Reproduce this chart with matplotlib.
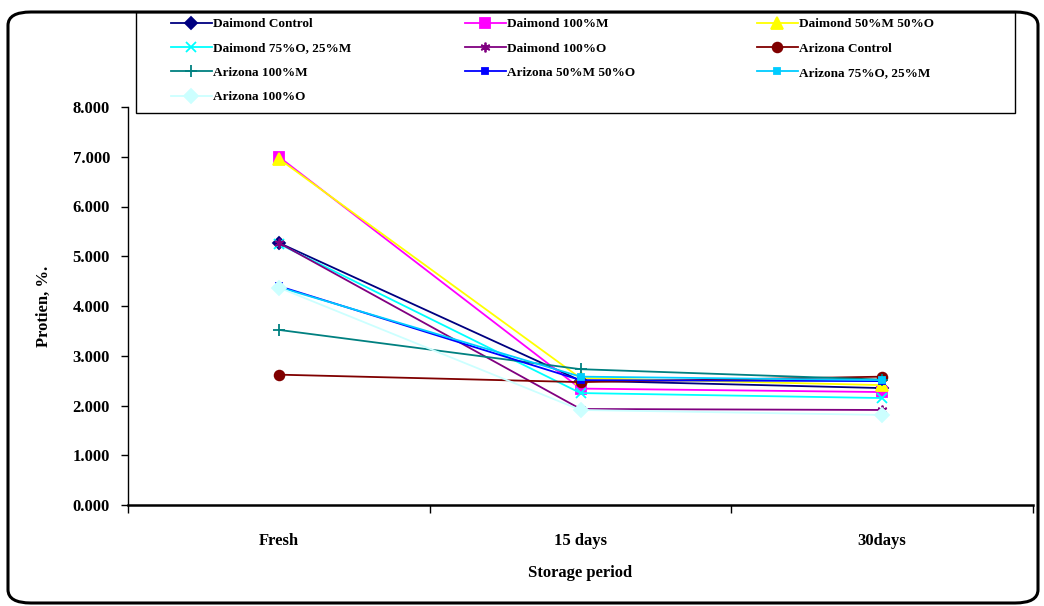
import matplotlib
matplotlib.use("Agg")
import matplotlib.pyplot as plt
from matplotlib.patches import FancyBboxPatch, Rectangle

plt.rcParams['font.family'] = ['Liberation Serif', 'DejaVu Serif']

categories = ["Fresh", "15 days", "30days"]
series_names = [
    "Daimond Control", "Daimond 100%M", "Daimond 50%M 50%O",
    "Daimond 75%O, 25%M", "Daimond 100%O", "Arizona Control",
    "Arizona 100%M", "Arizona 50%M 50%O", "Arizona 75%O, 25%M",
    "Arizona 100%O",
]
daimond_control = [5.27, 2.50, 2.35]
daimond_100m = [7.00, 2.34, 2.27]
daimond_50m50o = [6.96, 2.55, 2.41]
daimond_75o25m = [5.25, 2.25, 2.15]
daimond_100o = [5.27, 1.93, 1.91]
arizona_control = [2.62, 2.47, 2.58]
arizona_100m = [3.52, 2.73, 2.52]
arizona_50m50o = [4.40, 2.51, 2.49]
arizona_75o25m = [4.38, 2.58, 2.51]
arizona_100o = [4.37, 1.91, 1.81]
y_ticks = [0, 1, 2, 3, 4, 5, 6, 7, 8]

values = [daimond_control, daimond_100m, daimond_50m50o, daimond_75o25m,
          daimond_100o, arizona_control, arizona_100m, arizona_50m50o,
          arizona_75o25m, arizona_100o]
colors = ["#000080", "#FF00FF", "#FFFF00", "#00FFFF", "#800080",
          "#800000", "#008080", "#0000FF", "#00CCFF", "#CCFFFF"]
markers = ["D", "s", "^", "x", (6, 2, 0), "o", "+", "s", "s", "D"]
msizes = [6, 7, 8, 7, 7, 7, 8, 4, 5, 7]

W, H = 1044, 606
fig = plt.figure(figsize=(W / 100, H / 100), dpi=100)

# rounded outer frame
frame = FancyBboxPatch((8 / W, 3 / H), (1030 / W), (591 / H),
                       boxstyle="round,pad=0,rounding_size=0.022",
                       transform=fig.transFigure, fill=False,
                       edgecolor="black", linewidth=2.2, zorder=0)
fig.patches.append(frame)

ax = fig.add_axes([128 / W, 1 - 505 / H, (1033 - 128) / W, (505 - 107) / H])
x = list(range(len(categories)))
handles = []
for name, vals, c, m, ms in zip(series_names, values, colors, markers, msizes):
    h, = ax.plot(x, vals, color=c, marker=m, markersize=ms, linewidth=1.3,
                 markeredgecolor=c, markerfacecolor=c, markeredgewidth=1.3,
                 label=name)
    handles.append(h)

ax.set_xlim(-0.5, 2.5)
ax.set_ylim(0, 8)
ax.set_yticks(y_ticks)
ax.set_yticklabels([f"{v:.3f}" for v in y_ticks], fontsize=12, fontweight="bold")
ax.set_xticks([-0.5, 0.5, 1.5, 2.5])
ax.set_xticklabels([])
ax.set_xticks(x, minor=True)
ax.set_xticklabels(categories, minor=True, fontsize=12, fontweight="bold")
ax.tick_params(axis="x", which="minor", length=0, pad=20)
ax.tick_params(axis="x", which="major", length=6, direction="out", width=1)
ax.tick_params(axis="y", length=5, direction="out", width=1, pad=8)
for s in ["top", "right"]:
    ax.spines[s].set_visible(False)
ax.spines["left"].set_linewidth(1.0)
ax.spines["bottom"].set_linewidth(1.8)

ax.set_xlabel("Storage period", fontsize=12, fontweight="bold", labelpad=12)
ax.set_ylabel("Protien, %.", fontsize=12, fontweight="bold", labelpad=15)

# legend frame
fig.patches.append(Rectangle((136 / W, 1 - 113 / H), (1015 - 136) / W, (113 - 12) / H,
                             transform=fig.transFigure, fill=False,
                             edgecolor="black", linewidth=1.0, zorder=1))

# legend: three columns, row-major order
col_x = [171, 465, 757]
columns = [[0, 3, 6, 9], [1, 4, 7], [2, 5, 8]]
for cx, idx in zip(col_x, columns):
    lg = fig.legend([handles[i] for i in idx], [series_names[i] for i in idx],
                    loc="upper left", bbox_to_anchor=(cx / W, 1 - 18 / H),
                    frameon=False, borderpad=0, borderaxespad=0,
                    handlelength=3.1, handletextpad=0.1, labelspacing=0.92,
                    prop={"family": "Liberation Serif", "weight": "bold", "size": 9.5})

fig.savefig("out.png", dpi=100)
